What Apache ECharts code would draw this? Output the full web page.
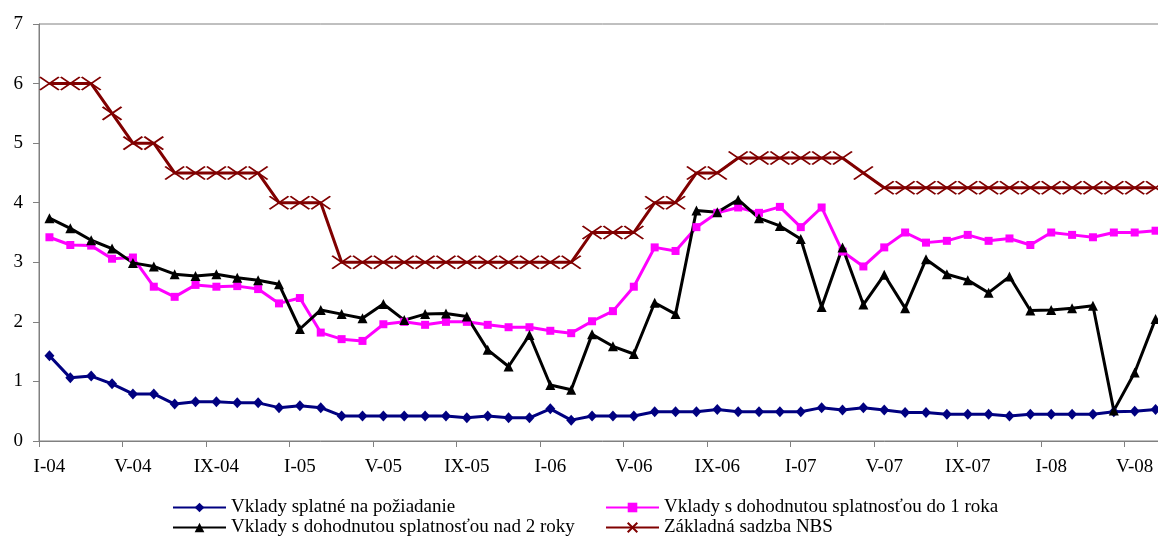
<!DOCTYPE html>
<html>
<head>
<meta charset="utf-8">
<script src="https://cdn.jsdelivr.net/npm/echarts@6/dist/echarts.min.js"></script>
<style>
  html, body { margin: 0; padding: 0; background: #ffffff; overflow: hidden; }
  /* the plot area runs slightly past the right edge of the window */
  #chart { width: 1170px; height: 537px; }
</style>
</head>
<body>
<div id="chart"></div>
<script>
// Monthly categories, January 2004 – June 2008
const months = [
  'I-04','II-04','III-04','IV-04','V-04','VI-04','VII-04','VIII-04','IX-04','X-04','XI-04','XII-04',
  'I-05','II-05','III-05','IV-05','V-05','VI-05','VII-05','VIII-05','IX-05','X-05','XI-05','XII-05',
  'I-06','II-06','III-06','IV-06','V-06','VI-06','VII-06','VIII-06','IX-06','X-06','XI-06','XII-06',
  'I-07','II-07','III-07','IV-07','V-07','VI-07','VII-07','VIII-07','IX-07','X-07','XI-07','XII-07',
  'I-08','II-08','III-08','IV-08','V-08','VI-08'
];

// Interest rates, %
const demandDeposits = [
  1.43, 1.06, 1.09, 0.96, 0.79, 0.79, 0.62, 0.66, 0.66, 0.64, 0.64, 0.56,
  0.59, 0.56, 0.42, 0.42, 0.42, 0.42, 0.42, 0.42, 0.39, 0.42, 0.39, 0.39,
  0.54, 0.35, 0.42, 0.42, 0.42, 0.49, 0.49, 0.49, 0.53, 0.49, 0.49, 0.49,
  0.49, 0.56, 0.52, 0.56, 0.52, 0.48, 0.48, 0.45, 0.45, 0.45, 0.42, 0.45,
  0.45, 0.45, 0.45, 0.49, 0.50, 0.53
];
const upTo1Year = [
  3.42, 3.29, 3.28, 3.06, 3.08, 2.59, 2.42, 2.62, 2.59, 2.60, 2.55, 2.31,
  2.40, 1.82, 1.71, 1.68, 1.96, 2.00, 1.95, 2.00, 2.00, 1.95, 1.91, 1.91,
  1.85, 1.81, 2.01, 2.18, 2.59, 3.25, 3.19, 3.59, 3.83, 3.92, 3.83, 3.93,
  3.59, 3.92, 3.18, 2.93, 3.25, 3.50, 3.33, 3.36, 3.46, 3.36, 3.40, 3.29,
  3.50, 3.46, 3.42, 3.50, 3.50, 3.53
];
const over2Years = [
  3.74, 3.57, 3.37, 3.23, 2.99, 2.93, 2.80, 2.77, 2.80, 2.74, 2.70, 2.63,
  1.88, 2.20, 2.13, 2.06, 2.30, 2.03, 2.13, 2.14, 2.09, 1.53, 1.25, 1.78,
  0.94, 0.86, 1.79, 1.59, 1.46, 2.32, 2.13, 3.87, 3.84, 4.05, 3.74, 3.61,
  3.39, 2.25, 3.25, 2.29, 2.79, 2.23, 3.05, 2.80, 2.70, 2.49, 2.76, 2.19,
  2.20, 2.23, 2.27, 0.51, 1.15, 2.05
];
const nbsRate = [
  6, 6, 6, 5.5, 5, 5, 4.5, 4.5, 4.5, 4.5, 4.5, 4,
  4, 4, 3, 3, 3, 3, 3, 3, 3, 3, 3, 3,
  3, 3, 3.5, 3.5, 3.5, 4, 4, 4.5, 4.5, 4.75, 4.75, 4.75,
  4.75, 4.75, 4.75, 4.5, 4.25, 4.25, 4.25, 4.25, 4.25, 4.25, 4.25, 4.25,
  4.25, 4.25, 4.25, 4.25, 4.25, 4.25
];

const seriesNames = [
  'Vklady splatné na požiadanie',
  'Vklady s dohodnutou splatnosťou do 1 roka',
  'Vklady s dohodnutou splatnosťou nad 2 roky',
  'Základná sadzba NBS'
];

const FONT = '"Liberation Serif", "Times New Roman", serif';
const AXIS_GREY = '#808080';
const CROSS = 'path://M0 0L20 12M20 0L0 12';

function legendAt(name, left, top) {
  return {
    data: [name],
    left: left,
    top: top,
    itemWidth: 53,
    itemHeight: 12,
    itemGap: 0,
    padding: 0,
    textStyle: { fontFamily: FONT, fontSize: 19, color: '#000000' }
  };
}

const chart = echarts.init(document.getElementById('chart'), null, { renderer: 'canvas' });

chart.setOption({
  animation: false,
  backgroundColor: '#ffffff',
  grid: {
    left: 39, top: 24, width: 1127, height: 417,
    show: true, borderColor: AXIS_GREY, borderWidth: 1, containLabel: false
  },
  legend: [
    legendAt(seriesNames[0], 172, 498),
    legendAt(seriesNames[1], 605, 498),
    legendAt(seriesNames[2], 172, 518),
    legendAt(seriesNames[3], 605, 518)
  ],
  xAxis: {
    type: 'category',
    data: months,
    boundaryGap: true,
    axisLine: { lineStyle: { color: AXIS_GREY, width: 1 } },
    axisTick: { show: true, interval: 3, length: 6, lineStyle: { color: AXIS_GREY } },
    axisLabel: {
      interval: 3, margin: 17,
      fontFamily: FONT, fontSize: 19, color: '#000000'
    },
    splitLine: { show: false }
  },
  yAxis: {
    type: 'value',
    min: 0, max: 7, interval: 1,
    axisLine: { show: true, lineStyle: { color: AXIS_GREY, width: 1 } },
    axisTick: { show: true, length: 6, lineStyle: { color: AXIS_GREY } },
    axisLabel: { margin: 16, fontFamily: FONT, fontSize: 19, color: '#000000' },
    splitLine: { show: false }
  },
  series: [
    {
      name: seriesNames[0], type: 'line', data: demandDeposits,
      symbol: 'diamond', symbolSize: [10, 11], showAllSymbol: true,
      lineStyle: { color: '#000080', width: 3 },
      itemStyle: { color: '#000080' }
    },
    {
      name: seriesNames[1], type: 'line', data: upTo1Year,
      symbol: 'rect', symbolSize: 8, showAllSymbol: true,
      lineStyle: { color: '#ff00ff', width: 3 },
      itemStyle: { color: '#ff00ff' }
    },
    {
      name: seriesNames[2], type: 'line', data: over2Years,
      symbol: 'triangle', symbolSize: 10, showAllSymbol: true,
      lineStyle: { color: '#000000', width: 3 },
      itemStyle: { color: '#000000' }
    },
    {
      name: seriesNames[3], type: 'line', data: nbsRate,
      symbol: CROSS, symbolSize: [19, 13], showAllSymbol: true,
      lineStyle: { color: '#800000', width: 3 },
      itemStyle: { color: '#800000', borderColor: '#800000', borderWidth: 1.8 }
    }
  ]
});
</script>
</body>
</html>
